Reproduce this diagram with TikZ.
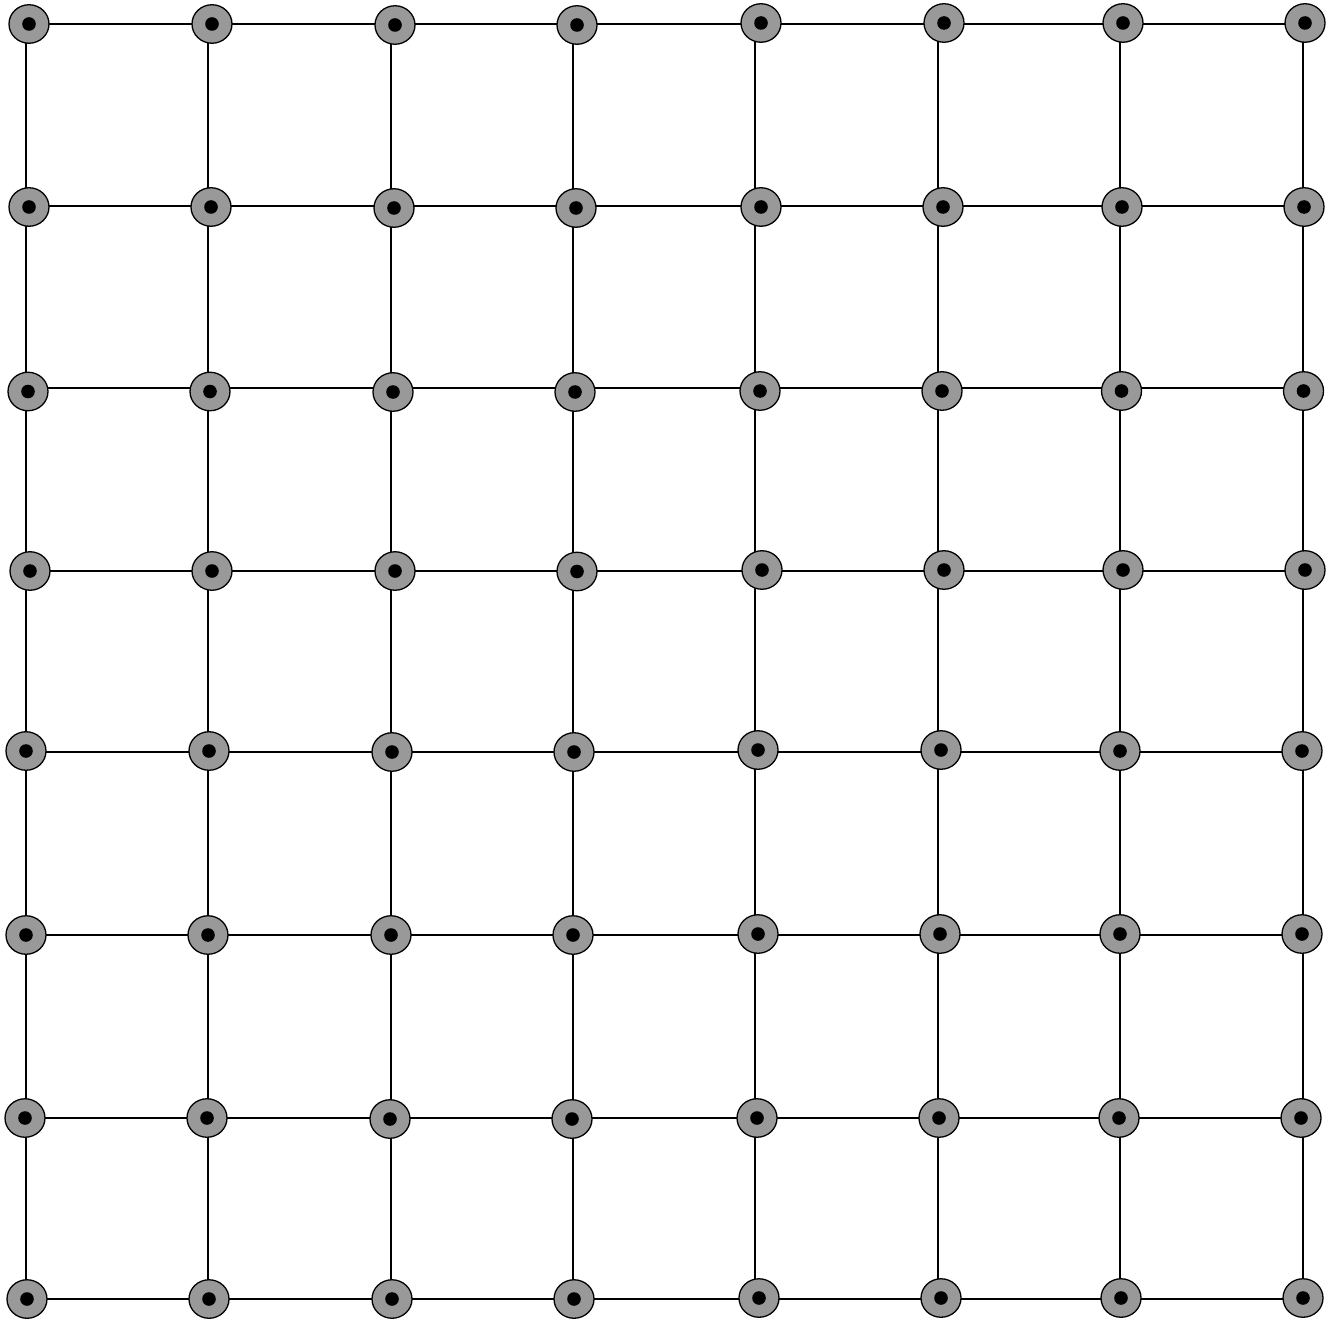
\documentclass[tikz,border=0pt]{standalone}
\usetikzlibrary{shapes.geometric}
\definecolor{nodegray}{RGB}{153,153,153}
\tikzset{
  gridline/.style={line width=1.5pt, black},
  site/.style={ellipse, draw=black, line width=1.3pt, fill=nodegray,
    minimum width=40pt, minimum height=38.5pt, inner sep=0pt,
    path picture={\fill[black] (path picture bounding box.center) circle (6.8pt);}}
}
\begin{document}
\begin{tikzpicture}[x=1pt,y=-1pt]
\useasboundingbox (0,0) rectangle (1337,1321);
% grid coordinates
\foreach \c/\gx in {0/26,1/208,2/391,3/573,4/755,5/938,6/1120,7/1303}{
  \foreach \r/\gy in {0/24,1/206,2/388,3/571,4/752,5/935,6/1118,7/1299}{
    \coordinate (g-\r-\c) at (\gx,\gy);
  }
}
% connectors
\foreach \r in {0,...,7}{
  \foreach \c [evaluate=\c as \cn using int(\c+1)] in {0,...,6}{
    \draw[gridline] (g-\r-\c) -- (g-\r-\cn);
  }
}
\foreach \c in {0,...,7}{
  \foreach \r [evaluate=\r as \rn using int(\r+1)] in {0,...,6}{
    \draw[gridline] (g-\r-\c) -- (g-\rn-\c);
  }
}
% sites
\foreach \r/\c/\px/\py in {
 0/0/29/24, 0/1/212/24, 0/2/395/25, 0/3/577/25, 0/4/761/23, 0/5/944/23, 0/6/1123/23, 0/7/1305/23,
 1/0/29/207, 1/1/211/207, 1/2/394/208, 1/3/576/208, 1/4/761/207, 1/5/943/207, 1/6/1122/207, 1/7/1304/207,
 2/0/28/391.5, 2/1/210/391.5, 2/2/393/392, 2/3/575/392, 2/4/760/391, 2/5/942/391, 2/6/1121.5/391, 2/7/1303.5/391,
 3/0/30/571, 3/1/212/571, 3/2/395/571, 3/3/577/571.5, 3/4/762/570, 3/5/944/570, 3/6/1123/570, 3/7/1305/570,
 4/0/26/751, 4/1/209/751, 4/2/392/752, 4/3/574/752, 4/4/758/750, 4/5/941/750, 4/6/1120/751, 4/7/1302/751,
 5/0/26/935, 5/1/208/935, 5/2/391/935, 5/3/573/935, 5/4/758/934, 5/5/940/934, 5/6/1120/934, 5/7/1302/934,
 6/0/25/1118, 6/1/207/1118, 6/2/390/1119, 6/3/572/1119, 6/4/757/1118, 6/5/939/1118, 6/6/1119/1118, 6/7/1301/1118,
 7/0/27/1299, 7/1/209/1299, 7/2/392/1299, 7/3/574/1299, 7/4/759/1298, 7/5/941/1298, 7/6/1121/1298, 7/7/1303/1298}{
  \node[site] (n-\r-\c) at (\px,\py) {};
}
\end{tikzpicture}
\end{document}
